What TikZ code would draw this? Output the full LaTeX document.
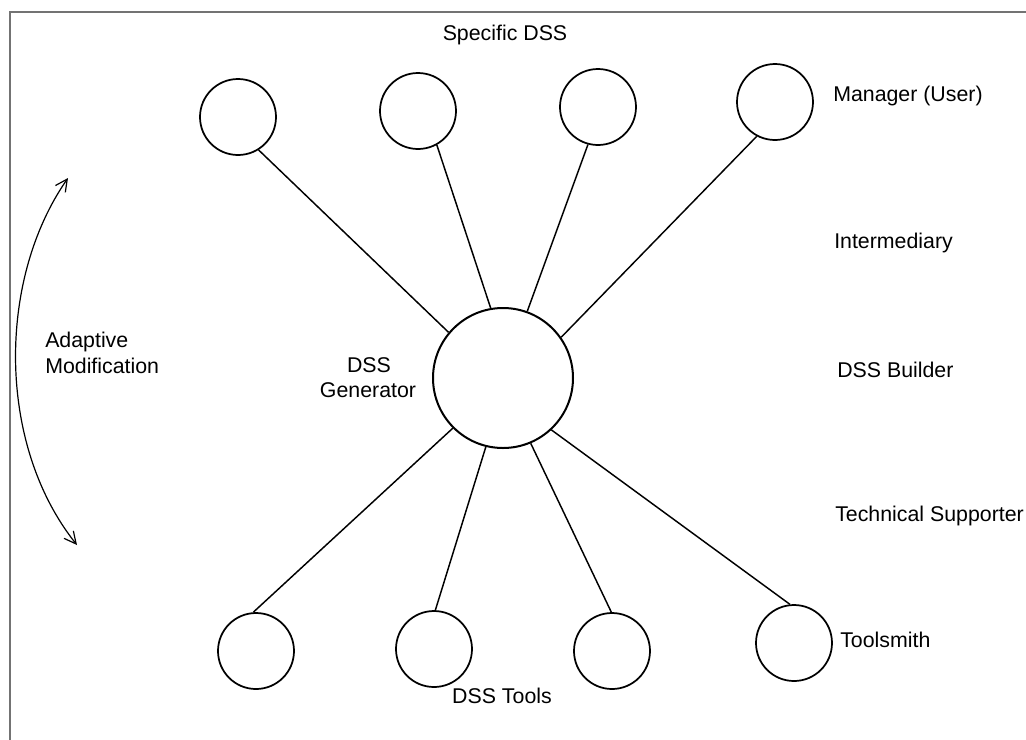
\documentclass[tikz,border=0pt]{standalone}
\usepackage{fontspec}
\setmainfont{Liberation Sans}
\usetikzlibrary{arrows.meta}
\begin{document}
\begin{tikzpicture}[x=0.75pt,y=-0.75pt,
  small/.style={circle,draw,line width=1.3pt,inner sep=0pt,minimum size=57pt},
  big/.style={circle,draw,line width=1.5pt,inner sep=0pt,minimum size=105pt},
  spoke/.style={line width=1.1pt},
  lbl/.style={font=\fontsize{16}{18.75}\selectfont,inner sep=0pt},
  frameline/.style={draw=black!55,line width=1.6pt},
  every node/.style={text=black}]
\useasboundingbox (0,0) rectangle (1026,740);
% frame
\coordinate (fc) at (10,12);
\coordinate (fr) at (1026,12);
\coordinate (fb) at (10,740);
\draw[frameline] (fr) -- (fc) -- (fb);
% nodes
\node[big] (g) at (503,378) {};
\node[small] (t1) at (238,117) {};
\node[small] (t2) at (418,111) {};
\node[small] (t3) at (598,107) {};
\node[small] (t4) at (775,102) {};
\node[small] (b1) at (256,651) {};
\node[small] (b2) at (434,649) {};
\node[small] (b3) at (612,651) {};
\node[small] (b4) at (794,643) {};
% spokes
\draw[spoke] (t1.-58) -- (g.140);
\draw[spoke] (t2.-61) -- (g.100);
\draw[spoke] (t3.-105) -- (g.70);
\draw[spoke] (t4.-118) -- (g.35);
\draw[spoke] (b1.94) -- (g.-135);
\draw[spoke] (b2.88) -- (g.-104);
\draw[spoke] (b3.91) -- (g.-67);
\draw[spoke] (b4.96) -- (g.-47);
% labels
\node[lbl,anchor=base] (specific) at (505,40) {Specific DSS};
\node[lbl,anchor=base west] (manager) at (833,101) {Manager (User)};
\node[lbl,anchor=base west] (interm) at (834,248) {Intermediary};
\node[lbl,anchor=base west] (builder) at (837,377) {DSS Builder};
\node[lbl,anchor=base west] (techsup) at (835,521) {Technical Supporter};
\node[lbl,anchor=base west] (toolsmith) at (840,647) {Toolsmith};
\node[lbl,anchor=base] (tools) at (502,703) {DSS Tools};
\node[lbl,anchor=base] (gen1) at (369,372) {DSS};
\node[lbl,anchor=base] (gen2) at (368,397) {Generator};
\node[lbl,anchor=base west] (adapt1) at (45,347) {Adaptive};
\node[lbl,anchor=base west] (adapt2) at (45,373) {Modification};
% adaptive arrow
\coordinate (atop) at (68,178);
\coordinate (abot) at (77,545);
\draw[line width=0.9pt,{Straight Barb[length=9pt,width=9pt]}-{Straight Barb[length=9pt,width=9pt]}]
  (atop) .. controls (-3,280) and (-3,445) .. (abot);
\end{tikzpicture}
\end{document}
